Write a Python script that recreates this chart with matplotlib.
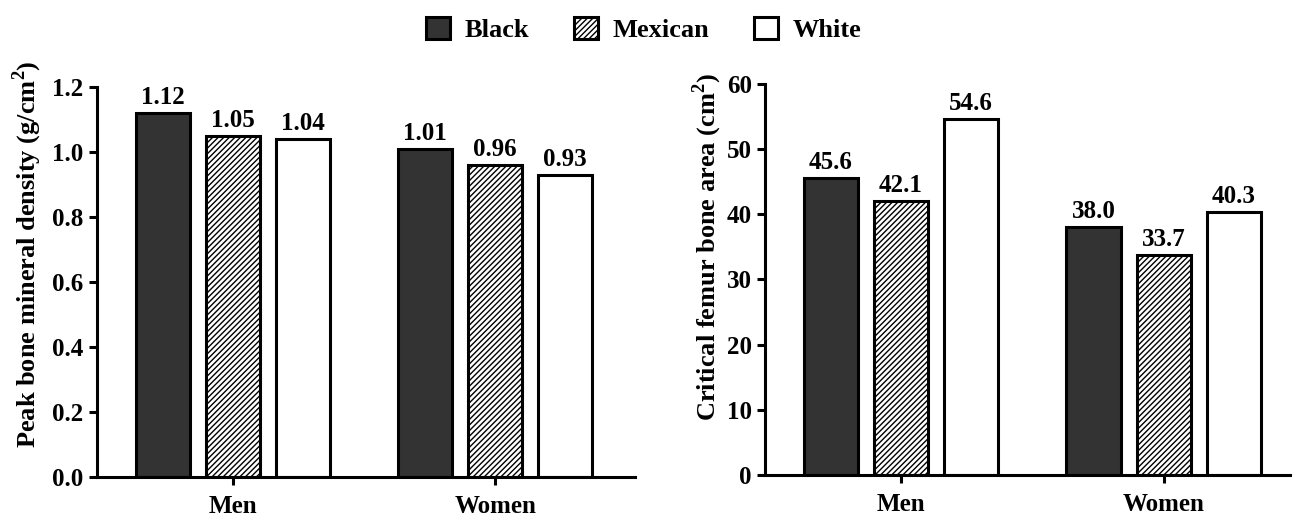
import numpy as np
import matplotlib.pyplot as plt
from matplotlib.patches import Patch

plt.rcParams["font.family"] = ["Liberation Serif", "DejaVu Serif"]
plt.rcParams["font.weight"] = "bold"
plt.rcParams["mathtext.fontset"] = "custom"
plt.rcParams["mathtext.rm"] = "Liberation Serif:bold"
plt.rcParams["mathtext.bf"] = "Liberation Serif:bold"
plt.rcParams["hatch.linewidth"] = 1.0

# Данные
groups = ["Men", "Women"]
races = ["Black", "Mexican", "White"]
bmd = {"Black": [1.12, 1.01], "Mexican": [1.05, 0.96], "White": [1.04, 0.93]}
area = {"Black": [45.6, 38.0], "Mexican": [42.1, 33.7], "White": [54.6, 40.3]}

colors = {"Black": "#333333", "Mexican": "white", "White": "white"}
hatches = {"Black": None, "Mexican": "//////", "White": None}


def draw_panel(ax, data, fmt, ylim, yticks, ylabel, xlim, pad, label_y):
    x = np.arange(len(groups))
    step = 0.267
    for i, r in enumerate(races):
        bars = ax.bar(x + (i - 1) * step, data[r], width=0.206,
                      color=colors[r], hatch=hatches[r],
                      edgecolor="black", linewidth=2.2)
        for b, v in zip(bars, data[r]):
            ax.text(b.get_x() + b.get_width() / 2, v + ylim[1] * 0.01,
                    fmt.format(v), ha="center", va="bottom",
                    fontsize=18, fontweight="bold")
    ax.set_xlim(*xlim)
    ax.set_ylim(*ylim)
    ax.set_yticks(yticks)
    ax.set_xticks(x)
    ax.set_xticklabels(groups)
    ax.set_ylabel(ylabel, fontsize=19, fontweight="bold", labelpad=pad)
    ax.yaxis.label.set_y(label_y)
    for s in ["top", "right"]:
        ax.spines[s].set_visible(False)
    for s in ["left", "bottom"]:
        ax.spines[s].set_linewidth(2.2)
    ax.tick_params(axis="both", labelsize=18, width=2.2, length=6)
    ax.tick_params(axis="x", pad=7)


fig = plt.figure(figsize=(13.03, 5.18), dpi=100)
ax1 = fig.add_axes([0.0744, 0.0792, 0.413, 0.753])
ax2 = fig.add_axes([0.587, 0.083, 0.403, 0.755])

draw_panel(ax1, bmd, "{:.2f}", (0, 1.2), np.arange(0, 1.21, 0.2),
           "Peak bone mineral density (g/cm$^{2}$)", (-0.519, 1.534), 6, 0.572)
ax1.set_yticklabels([f"{t:.1f}" for t in np.arange(0, 1.21, 0.2)])
draw_panel(ax2, area, "{:.1f}", (0, 60), np.arange(0, 61, 10),
           "Critical femur bone area (cm$^{2}$)", (-0.517, 1.48), 2, 0.584)

handles = [Patch(facecolor=colors[r], hatch=hatches[r], edgecolor="black",
                 linewidth=2.2, label=r) for r in races]
fig.legend(handles=handles, loc="upper center", bbox_to_anchor=(0.494, 1.013),
           ncol=3, frameon=False, handlelength=0.9, handleheight=0.9,
           handletextpad=0.55, columnspacing=1.7,
           prop={"weight": "bold", "size": 19})

fig.savefig("out.png", dpi=100)
